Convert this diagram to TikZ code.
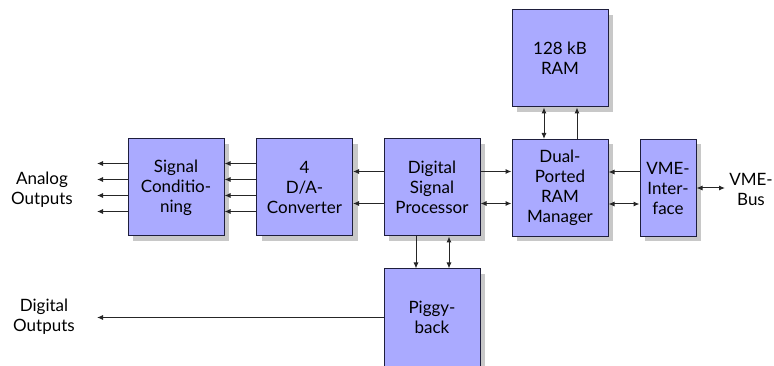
\documentclass[tikz,border=0pt]{standalone}
\usepackage{fontspec}
\setmainfont{Lato}
\usepackage{tikz}
\usetikzlibrary{
    calc,
    arrows.meta,
    shadows
}
\definecolor{blkfill}{HTML}{AAAAFF}
\definecolor{blkline}{HTML}{1E1E3C}
\definecolor{blkshade}{HTML}{C8C8C8}
\tikzset{
    blk/.style={draw=blkline, fill=blkfill, line width=1pt,
        minimum width=96pt, minimum height=97pt, inner sep=0pt,
        align=center, font=\fontsize{17}{20}\selectfont,
        drop shadow={shadow xshift=5pt, shadow yshift=-5pt, fill=blkshade, opacity=1}},
    lbl/.style={align=center, font=\fontsize{17}{20}\selectfont, inner sep=0pt},
    conn/.style={line width=1pt, draw=black!85},
}

\begin{document}
\begin{tikzpicture}[x=1pt, y=-1pt, >={Latex[length=6pt,width=5pt]}]
        \clip (0,0) rectangle (774,366);
        \useasboundingbox (0,0) rectangle (774,366);

        % blocks
        \node[blk] (sc)  at (176,187.5) {Signal\\Conditio-\\ning};
        \node[blk] (dac) at (304.5,187.5) {4\\D/A-\\Converter};
        \node[blk] (dsp) at (432,187.5) {Digital\\Signal\\Processor};
        \node[blk] (dpr) at (560,188) {Dual-\\Ported\\RAM\\Manager};
        \node[blk] (ram) at (560,58.5) {128 kB\\RAM};
        \node[blk, minimum width=56pt] (vme) at (668,188) {VME-\\Inter-\\face};
        \node[blk] (pig) at (432,317.5) {Piggy-\\back};

        % outer labels
        \node[lbl] (aout) at (42,190) {Analog\\Outputs};
        \node[lbl] (dout) at (44,317) {Digital\\Outputs};
        \node[lbl] (bus)  at (751,189) {VME-\\Bus};
        \coordinate (aend) at (97,188);
        \coordinate (bend) at (725,188);

        % connectors
        \foreach \dy in {-24,-8,8,24} {
            \draw[conn,->] ([yshift=\dy pt]sc.west) -- ([yshift=\dy pt]sc.west -| aend);
            \draw[conn,->] ([yshift=\dy pt]sc.east -| dac.west) -- ([yshift=\dy pt]sc.east);
        }
        \foreach \dy in {16,-16}
            \draw[conn,->] ([yshift=\dy pt]dsp.west) -- ([yshift=\dy pt]dac.east);
        \draw[conn,->]  ([yshift=16pt]dsp.east) -- ([yshift=16pt]dsp.east -| dpr.west);
        \draw[conn,<->] ([yshift=-16pt]dsp.east) -- ([yshift=-16pt]dsp.east -| dpr.west);
        \draw[conn,->]  ([yshift=16pt]vme.west) -- ([yshift=16pt]vme.west -| dpr.east);
        \draw[conn,<->] ([yshift=-16pt]vme.west) -- ([yshift=-16pt]vme.west -| dpr.east);
        \draw[conn,<->] ([xshift=-16pt]ram.south) -- ([xshift=-16pt]ram.south |- dpr.north);
        \draw[conn,->]  ([xshift=17pt]ram.south |- dpr.north) -- ([xshift=17pt]ram.south);
        \draw[conn,->]  ([xshift=-16pt]dsp.south) -- ([xshift=-16pt]dsp.south |- pig.north);
        \draw[conn,<->] ([xshift=17pt]dsp.south) -- ([xshift=17pt]dsp.south |- pig.north);
        \draw[conn,<->] (vme.east) -- (bend);
        \draw[conn,->]  (pig.west) -- (pig.west -| aend);
    \end{tikzpicture}
\end{document}
